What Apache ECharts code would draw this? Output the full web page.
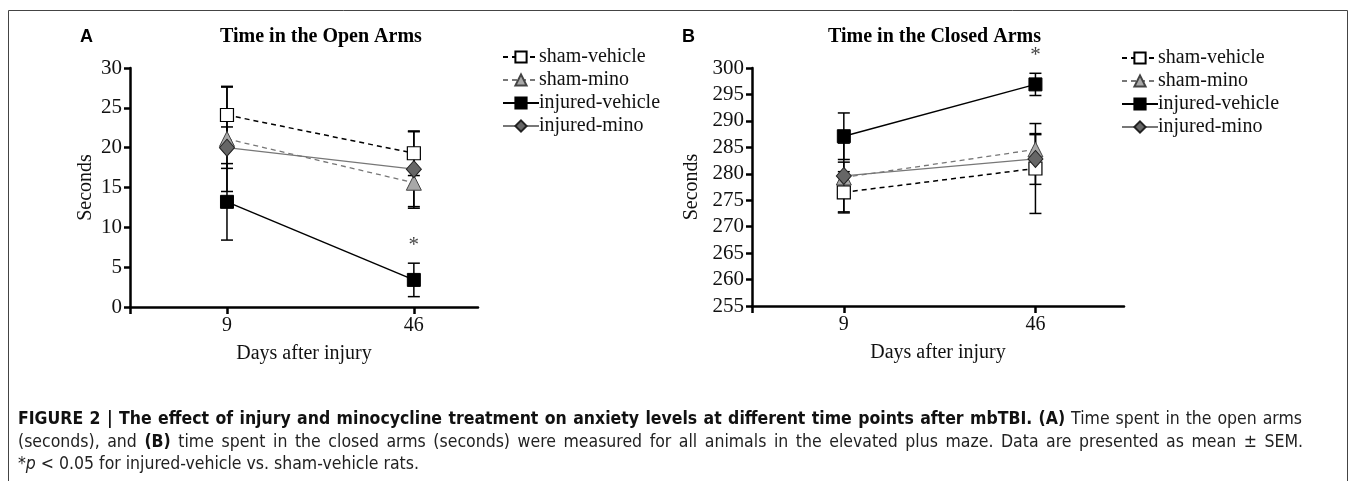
<!DOCTYPE html>
<html>
<head>
<meta charset="utf-8">
<script src="https://cdn.jsdelivr.net/npm/echarts@6/dist/echarts.min.js"></script>
<style>
html,body{margin:0;padding:0;background:#fff;}
#chart{width:1354px;height:481px;}
</style>
</head>
<body>
<div id="chart"></div>
<script>
// ---------- data ----------
const days = [9, 46];
const seriesNames = ['sham-vehicle', 'sham-mino', 'injured-vehicle', 'injured-mino'];
// Panel A: Time in the Open Arms (seconds), mean and SEM per group at day 9, 46
const openMean = [[24.1, 19.3], [21.1, 15.6], [13.2, 3.4], [20.0, 17.3]];
const openSem  = [[3.5, 2.8], [6.6, 3.2], [4.8, 2.1], [2.6, 4.7]];
// Panel B: Time in the Closed Arms (seconds)
const closedMean = [[276.5, 281.0], [279.3, 284.6], [287.1, 296.9], [279.6, 282.8]];
const closedSem  = [[3.9, 8.5], [6.5, 2.8], [4.4, 2.1], [2.6, 4.8]];
// significance markers (day, y position)
const openSig = [[46, 7.7]];
const closedSig = [[46, 302.3]];
const openTicks = [0, 5, 10, 15, 20, 25, 30];
const closedTicks = [255, 260, 265, 270, 275, 280, 285, 290, 295, 300];

// ---------- caption ----------
const captionLine1 = [['b', 'FIGURE 2 | The effect of injury and minocycline treatment on anxiety levels at different time points after mbTBI. (A)'], ['r', ' Time spent in the open arms']];
const captionLine2 = [['r', '(seconds), and '], ['b', '(B)'], ['r', ' time spent in the closed arms (seconds) were measured for all animals in the elevated plus maze. Data are presented as mean ± SEM.']];
const captionLine3 = [['r', '*'], ['i', 'p'], ['r', ' < 0.05 for injured-vehicle vs. sham-vehicle rats.']];

// ---------- styles ----------
const serif = '"Liberation Serif","Times New Roman",serif';
const capFont = '"DejaVu Sans Condensed","Liberation Sans",sans-serif';
const capSize = 17.5;
const capFonts = {
  b: 'bold ' + capSize + 'px ' + capFont,
  r: capSize + 'px ' + capFont,
  i: 'italic ' + capSize + 'px ' + capFont
};
const styles = [
  {line: {color: '#000', width: 1.5, type: [5, 4]}, symbol: 'rect', size: 13, item: {color: '#fff', borderColor: '#000', borderWidth: 1.2}},
  {line: {color: '#777', width: 1.3, type: [5, 4]}, symbol: 'triangle', size: 15, item: {color: '#a8a8a8', borderColor: '#444', borderWidth: 1}},
  {line: {color: '#000', width: 1.5, type: 'solid'}, symbol: 'rect', size: 13, item: {color: '#000', borderColor: '#000', borderWidth: 1}},
  {line: {color: '#777', width: 1.3, type: 'solid'}, symbol: 'diamond', size: [15, 17], item: {color: '#666', borderColor: '#222', borderWidth: 1}}
];

// justified caption line built as rich text (space tokens get widened)
const mctx = document.createElement('canvas').getContext('2d');
function richLine(segs, target) {
  const tokens = [];
  segs.forEach(([k, t]) => {
    t.split(/( )/).forEach(p => { if (p !== '') tokens.push([p === ' ' ? 's' + k : k, p]); });
  });
  let w = 0, spaces = 0;
  tokens.forEach(([k, p]) => {
    const base = k[0] === 's' ? k.slice(1) : k;
    mctx.font = capFonts[base];
    w += mctx.measureText(p).width;
    if (k[0] === 's') spaces++;
  });
  const extra = target && spaces ? Math.max(0, (target - w) / spaces) : 0;
  const rich = {};
  ['b', 'r', 'i'].forEach(k => {
    rich[k] = {font: capFonts[k], fill: k === 'b' ? '#111' : '#222'};
    mctx.font = capFonts[k];
    rich['s' + k] = {font: capFonts[k], fill: '#222', width: mctx.measureText(' ').width + extra};
  });
  const text = tokens.map(([k, p]) => '{' + k + '|' + p + '}').join('');
  return {text: text, rich: rich};
}

function errorSeries(gi, means, sems) {
  const data = [];
  means.forEach((m, si) => m.forEach((v, di) => data.push([days[di], v - sems[si][di], v + sems[si][di]])));
  return {
    type: 'custom', xAxisIndex: gi, yAxisIndex: gi, z: 1, silent: true,
    data: data,
    renderItem: function (params, api) {
      const x = api.value(0);
      const lo = api.coord([x, api.value(1)]);
      const hi = api.coord([x, api.value(2)]);
      const w = 6;
      const st = {stroke: '#000', lineWidth: 1.5};
      return {type: 'group', children: [
        {type: 'line', shape: {x1: lo[0], y1: lo[1], x2: hi[0], y2: hi[1]}, style: st},
        {type: 'line', shape: {x1: lo[0] - w, y1: lo[1], x2: lo[0] + w, y2: lo[1]}, style: st},
        {type: 'line', shape: {x1: hi[0] - w, y1: hi[1], x2: hi[0] + w, y2: hi[1]}, style: st}
      ]};
    }
  };
}
function lineSeries(gi, means) {
  return means.map((m, si) => ({
    name: seriesNames[si], type: 'line', xAxisIndex: gi, yAxisIndex: gi, z: 3,
    data: m.map((v, di) => [days[di], v]),
    symbol: styles[si].symbol, symbolSize: styles[si].size,
    lineStyle: styles[si].line, itemStyle: styles[si].item,
    showSymbol: true, animation: false
  }));
}
function sigSeries(gi, pts) {
  return {
    type: 'scatter', xAxisIndex: gi, yAxisIndex: gi, clip: false, symbolSize: 1,
    itemStyle: {color: 'rgba(0,0,0,0)'}, data: pts,
    label: {show: true, formatter: '*', position: 'inside', fontFamily: serif, fontSize: 21, color: '#111'}
  };
}
function xAxisCfg(gi, min, max) {
  return {
    type: 'value', gridIndex: gi, min: min, max: max,
    name: 'Days after injury', nameLocation: 'middle', nameGap: 37,
    nameTextStyle: {fontFamily: serif, fontSize: 20, color: '#111'},
    axisLine: {onZero: false, lineStyle: {color: '#000', width: 2.5}},
    axisTick: {show: true, length: 7, lineStyle: {color: '#000', width: 2.5}, customValues: [min].concat(days)},
    axisLabel: {customValues: days, fontFamily: serif, fontSize: 20, color: '#111', margin: 9},
    splitLine: {show: false}
  };
}
function yAxisCfg(gi, ticks, gap) {
  return {
    type: 'value', gridIndex: gi, min: ticks[0], max: ticks[ticks.length - 1], interval: 5,
    name: 'Seconds', nameLocation: 'middle', nameGap: gap, nameRotate: 90,
    nameTextStyle: {fontFamily: serif, fontSize: 20, color: '#111'},
    axisLine: {show: true, onZero: false, lineStyle: {color: '#000', width: 2.5}},
    axisTick: {show: true, length: 6, lineStyle: {color: '#000', width: 2.5}},
    axisLabel: {fontFamily: serif, fontSize: 21, color: '#111', margin: 8},
    splitLine: {show: false}
  };
}
const legendBase = {
  orient: 'vertical', data: seriesNames, itemWidth: 36, itemHeight: 14, itemGap: 3,
  textStyle: {fontFamily: serif, fontSize: 20, color: '#111', padding: [0, 0, 0, -5]},
  selectedMode: false
};

const cap1 = richLine(captionLine1, 1284);
const cap2 = richLine(captionLine2, 1285);
const cap3 = richLine(captionLine3, 0);

const chart = echarts.init(document.getElementById('chart'), null, {renderer: 'canvas'});
chart.setOption({
  animation: false,
  backgroundColor: '#fff',
  grid: [
    {left: 130, top: 68, width: 348, height: 239},
    {left: 752, top: 68, width: 372, height: 238}
  ],
  xAxis: [xAxisCfg(0, -10.2, 58.7), xAxisCfg(1, -8.73, 63.1)],
  yAxis: [yAxisCfg(0, openTicks, 34), yAxisCfg(1, closedTicks, 50)],
  legend: [
    Object.assign({left: 497, top: 42}, legendBase),
    Object.assign({left: 1116, top: 43}, legendBase)
  ],
  series: [
    errorSeries(0, openMean, openSem),
    ...lineSeries(0, openMean),
    sigSeries(0, openSig),
    errorSeries(1, closedMean, closedSem),
    ...lineSeries(1, closedMean),
    sigSeries(1, closedSig)
  ],
  graphic: [
    {type: 'rect', shape: {x: 8.5, y: 10.5, width: 1339, height: 520}, style: {fill: 'none', stroke: '#444', lineWidth: 1}, silent: true},
    {type: 'text', left: 80, top: 28, style: {text: 'A', font: 'bold 18px "Liberation Sans",Arial,sans-serif', fill: '#000'}},
    {type: 'text', left: 682, top: 28, style: {text: 'B', font: 'bold 18px "Liberation Sans",Arial,sans-serif', fill: '#000'}},
    {type: 'text', left: 220, top: 27, style: {text: 'Time in the Open Arms', font: 'bold 20px "Liberation Serif",serif', fill: '#000'}},
    {type: 'text', left: 828, top: 27, style: {text: 'Time in the Closed Arms', font: 'bold 20px "Liberation Serif",serif', fill: '#000'}},
    {type: 'text', left: 18, top: 410, style: cap1},
    {type: 'text', left: 18, top: 433, style: cap2},
    {type: 'text', left: 18, top: 455, style: cap3}
  ]
});
</script>
</body>
</html>
